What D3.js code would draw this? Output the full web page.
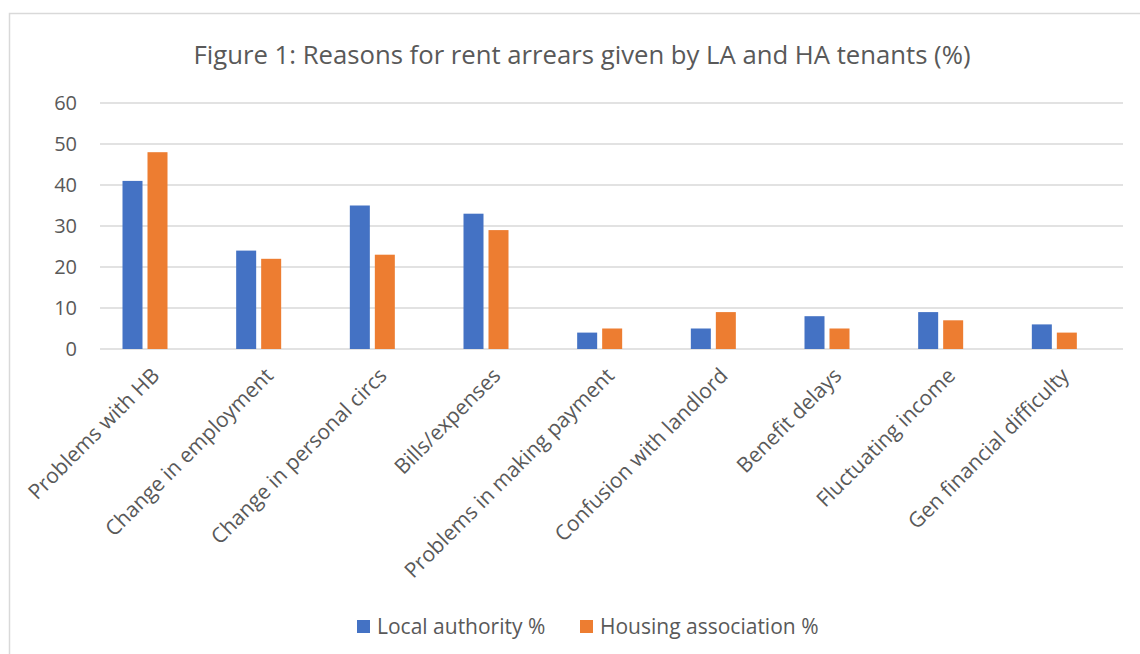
<!DOCTYPE html>
<html>
<head>
<meta charset="utf-8">
<script src="https://cdn.jsdelivr.net/npm/d3@7"></script>
<style>
  body { margin: 0; background: #fff; }
  text { font-family: "Open Sans", Lato, sans-serif; fill: #595959; }
</style>
</head>
<body>
<div id="chart"></div>
<script>
var categories = ["Problems with HB", "Change in employment", "Change in personal circs",
    "Bills/expenses", "Problems in making payment", "Confusion with landlord",
    "Benefit delays", "Fluctuating income", "Gen financial difficulty"];
var localAuthority = [41, 24, 35, 33, 4, 5, 8, 9, 6];
var housingAssoc = [48, 22, 23, 29, 5, 9, 5, 7, 4];
var seriesNames = ["Local authority %", "Housing association %"];
var yTicks = [0, 10, 20, 30, 40, 50, 60];
var colors = ["#4472C4", "#ED7D31"];

var W = 1140, H = 654;
var svg = d3.select("#chart").append("svg")
    .attr("width", W).attr("height", H);

// chart frame
svg.append("rect")
    .attr("x", 9.5).attr("y", 13.5)
    .attr("width", 1200).attr("height", 700)
    .attr("fill", "none").attr("stroke", "#d9d9d9").attr("stroke-width", 1.5);

svg.append("text")
    .attr("x", 582).attr("y", 64)
    .attr("text-anchor", "middle")
    .style("font-size", "25.7px")
    .text("Figure 1: Reasons for rent arrears given by LA and HA tenants (%)");

var y = d3.scaleLinear().domain([0, 60]).range([349, 103]);
var x = d3.scaleBand().domain(categories).range([88, 1111]);
var x1 = d3.scaleBand().domain([0, 1]).range([34.5, 79.5]).paddingInner(0.2);

// gridlines
svg.append("g").selectAll("line")
    .data(yTicks)
    .enter().append("line")
    .attr("x1", 100).attr("x2", 1123)
    .attr("y1", function(d) { return y(d); })
    .attr("y2", function(d) { return y(d); })
    .attr("stroke", "#d9d9d9").attr("stroke-width", 1.5);

var yAxis = d3.axisLeft(y).tickValues(yTicks).tickSize(0).tickPadding(0);
var gy = svg.append("g")
    .attr("transform", "translate(77,0)")
    .call(yAxis);
gy.select(".domain").remove();
gy.selectAll("text").style("font-size", "20px").attr("fill", "#595959");

var rows = categories.map(function(c, i) {
    return { cat: c, vals: [localAuthority[i], housingAssoc[i]] };
});

var grp = svg.selectAll("g.grp")
    .data(rows)
    .enter().append("g")
    .attr("class", "grp")
    .attr("transform", function(d) { return "translate(" + x(d.cat) + ",0)"; });

grp.selectAll("rect")
    .data(function(d) { return d.vals; })
    .enter().append("rect")
    .attr("x", function(d, i) { return x1(i); })
    .attr("width", x1.bandwidth())
    .attr("y", function(d) { return y(d); })
    .attr("height", function(d) { return y(0) - y(d); })
    .attr("fill", function(d, i) { return colors[i]; });

// category labels, rotated
svg.append("g").selectAll("text")
    .data(categories)
    .enter().append("text")
    .attr("text-anchor", "end")
    .attr("transform", function(d) {
        return "translate(" + (x(d) + x.bandwidth() / 2 + 16) + ",377) rotate(-45)";
    })
    .style("font-size", "21px")
    .text(function(d) { return d; });

// legend
var legX = [357, 580];
var leg = svg.append("g").selectAll("g")
    .data(seriesNames)
    .enter().append("g")
    .attr("transform", function(d, i) { return "translate(" + legX[i] + ",620)"; });
leg.append("rect")
    .attr("width", 13).attr("height", 13)
    .attr("fill", function(d, i) { return colors[i]; });
leg.append("text")
    .attr("x", 20).attr("y", 14)
    .style("font-size", "21px")
    .text(function(d) { return d; });
</script>
</body>
</html>
